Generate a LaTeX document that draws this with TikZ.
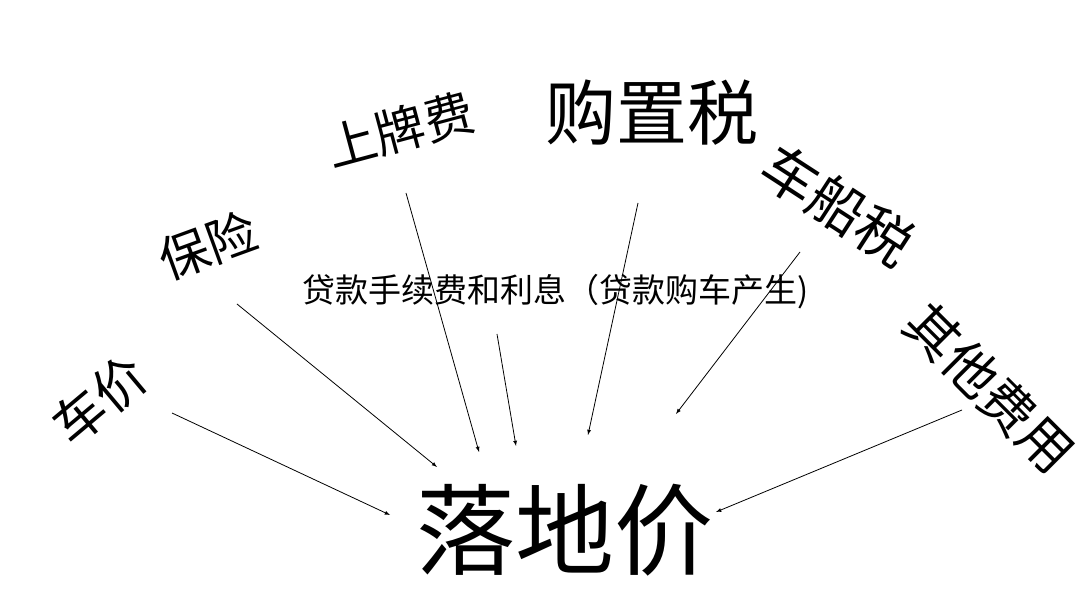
\documentclass[tikz,border=0pt]{standalone}
\usepackage{fontspec}
\setmainfont{Noto Sans CJK SC}
\usepackage{tikz}
\usetikzlibrary{positioning,arrows}

\begin{document}
\begin{tikzpicture}[
          x=1pt,y=1pt,
          fee/.style={inner sep=0pt,anchor=center},
          feearrow/.style={-latex,line width=0.8pt}
            ]
    \useasboundingbox (0,0) rectangle (1080,600);
    % items
    \node[fee,rotate=40,font=\fontsize{52}{52}\selectfont] (chejia) at (100,200) {车价};
    \node[fee,rotate=20,font=\fontsize{50}{50}\selectfont] (baoxian) at (208,355) {保险};
    \node[fee,rotate=15,font=\fontsize{50}{50}\selectfont] (shangpai) at (400,470) {上牌费};
    \node[fee,font=\fontsize{71}{71}\selectfont] (gouzhi) at (652,487) {购置税};
    \node[fee,rotate=-33,font=\fontsize{56}{56}\selectfont] (chechuan) at (838,395) {车船税};
    \node[fee,rotate=-45,font=\fontsize{53}{53}\selectfont] (qita) at (990,212) {其他费用};
    \node[fee,font=\fontsize{33}{33}\selectfont] (daikuan) at (556,308) {贷款手续费和利息（贷款购车产生)};
    \node[fee,font=\fontsize{99}{99}\selectfont] (luodi) at (565,70) {落地价};
    % arrow ends
    \coordinate (chejia-s) at (172,187);   \coordinate (chejia-e) at (390,85);
    \coordinate (baoxian-s) at (237,296);  \coordinate (baoxian-e) at (437,133);
    \coordinate (shangpai-s) at (406,407); \coordinate (shangpai-e) at (479,148);
    \coordinate (daikuan-s) at (497,266);  \coordinate (daikuan-e) at (516,154);
    \coordinate (gouzhi-s) at (638,397);   \coordinate (gouzhi-e) at (588,165);
    \coordinate (chechuan-s) at (800,348); \coordinate (chechuan-e) at (676,186);
    \coordinate (qita-s) at (962,190);     \coordinate (qita-e) at (716,88);
    \foreach \n in {chejia,baoxian,shangpai,daikuan,gouzhi,chechuan,qita}
      \draw[feearrow] (\n-s) -- (\n-e);
\end{tikzpicture}
\end{document}
